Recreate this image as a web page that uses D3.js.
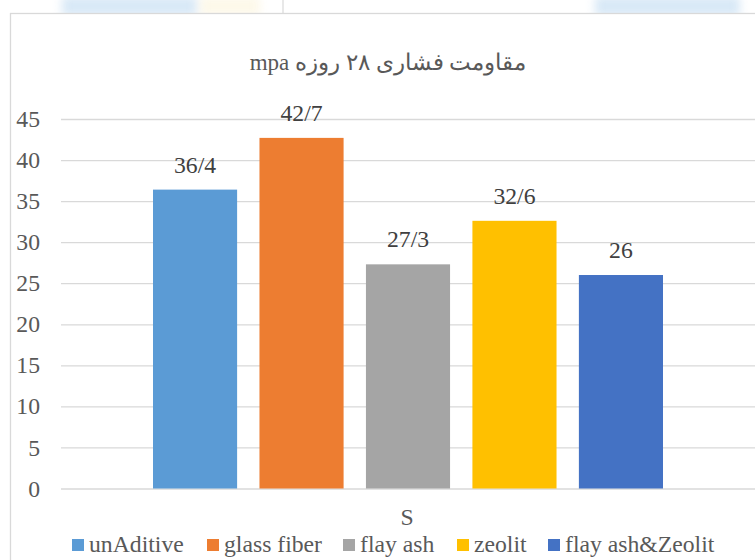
<!DOCTYPE html>
<html>
<head>
<meta charset="utf-8">
<script src="https://cdn.jsdelivr.net/npm/d3@7"></script>
<style>
  body { margin: 0; background: #fff; }
  svg text { font-family: "Liberation Serif", "Tinos", "Times New Roman", "DejaVu Serif", serif !important; }
</style>
</head>
<body>
<div class="vis-barchart"></div>
<script>
// chart data
const category = ["S"];
const series = ["unAditive", "glass fiber", "flay ash", "zeolit", "flay ash&Zeolit"];
const values = [36.4, 42.7, 27.3, 32.6, 26];
const colors = ["#5B9BD5", "#ED7D31", "#A5A5A5", "#FFC000", "#4472C4"];
const yTicks = [0, 5, 10, 15, 20, 25, 30, 35, 40, 45];
const title = "مقاومت فشاری ۲۸ روزه mpa";

const W = 755, H = 560;
const fontSize = "23.7px";
let margin = { top: 119, right: 0, bottom: 71.5, left: 61 };
const width = W - margin.left - margin.right;
const height = H - margin.top - margin.bottom;

const root = d3.select(".vis-barchart")
    .append("svg")
    .attr("width", W)
    .attr("height", H);

// faded background strip above the chart frame
const defs = root.append("defs");
defs.append("filter").attr("id", "blur")
    .attr("x", "-20%").attr("y", "-100%").attr("width", "140%").attr("height", "300%")
    .append("feGaussianBlur").attr("stdDeviation", 5);
const strip = root.append("g").attr("filter", "url(#blur)").attr("opacity", 0.45);
strip.append("rect").attr("x", 62).attr("y", -4).attr("width", 135).attr("height", 20).attr("fill", "#a9cdec");
strip.append("rect").attr("x", 200).attr("y", -4).attr("width", 60).attr("height", 20).attr("fill", "#fbf1d0");
strip.append("rect").attr("x", 595).attr("y", -4).attr("width", 145).attr("height", 20).attr("fill", "#a9cdec");
root.append("line").attr("x1", 283).attr("x2", 283).attr("y1", 0).attr("y2", 13)
    .attr("stroke", "#e8e8e8").attr("stroke-width", 2);

// chart frame
root.append("rect")
    .attr("x", 10.5).attr("y", 13.5)
    .attr("width", W + 20).attr("height", H + 20)
    .attr("fill", "#fff")
    .attr("stroke", "#d9d9d9")
    .attr("stroke-width", 1.3);

// title
root.append("text")
    .attr("x", 388)
    .attr("y", 70)
    .attr("text-anchor", "middle")
    .attr("direction", "rtl")
    .style("unicode-bidi", "embed")
    .attr("fill", "#595959")
    .style("font-size", "23px")
    .text(title);

const svg = root.append("g")
    .attr("transform", `translate(${margin.left},${margin.top})`);

const y = d3.scaleLinear()
    .domain([0, 45])
    .range([height, 0]);

const x0 = d3.scaleBand()
    .domain(category)
    .range([0, width]);

const x1 = d3.scaleBand()
    .domain(series)
    .range([92, x0.bandwidth() - 92])
    .paddingInner(0.21);

// gridlines + y axis labels
const yAxis = svg.append("g")
    .call(d3.axisLeft(y).tickValues(yTicks).tickSize(-width).tickPadding(21));
yAxis.attr("font-family", null);
yAxis.select(".domain").remove();
yAxis.selectAll(".tick line").attr("stroke", "#d9d9d9").attr("stroke-width", 1.3);
yAxis.selectAll(".tick text")
    .attr("fill", "#595959")
    .style("font-size", fontSize);

// bars
const group = svg.append("g").attr("transform", `translate(${x0("S")},0)`);
series.forEach((s, i) => {
    group.append("rect")
        .attr("x", x1(s))
        .attr("y", y(values[i]))
        .attr("width", x1.bandwidth())
        .attr("height", height - y(values[i]))
        .attr("fill", colors[i]);

    group.append("text")
        .attr("x", x1(s) + x1.bandwidth() / 2)
        .attr("y", y(values[i]) - 17)
        .attr("text-anchor", "middle")
        .attr("fill", "#404040")
        .style("font-size", fontSize)
        .text(String(values[i]).replace(".", "/"));
});

// category label
svg.append("text")
    .attr("x", x0("S") + x0.bandwidth() / 2 - 1)
    .attr("y", height + 36)
    .attr("text-anchor", "middle")
    .attr("fill", "#595959")
    .style("font-size", fontSize)
    .text(category[0]);

// legend
const legendX = [72, 207, 343, 457, 548];
const legend = root.append("g").attr("transform", "translate(0, 539)");
series.forEach((s, i) => {
    const row = legend.append("g").attr("transform", `translate(${legendX[i]},0)`);
    row.append("rect")
        .attr("width", 12)
        .attr("height", 12)
        .attr("fill", colors[i]);
    row.append("text")
        .attr("x", 17)
        .attr("y", 13)
        .attr("fill", "#595959")
        .style("font-size", fontSize)
        .text(s);
});
</script>
</body>
</html>
